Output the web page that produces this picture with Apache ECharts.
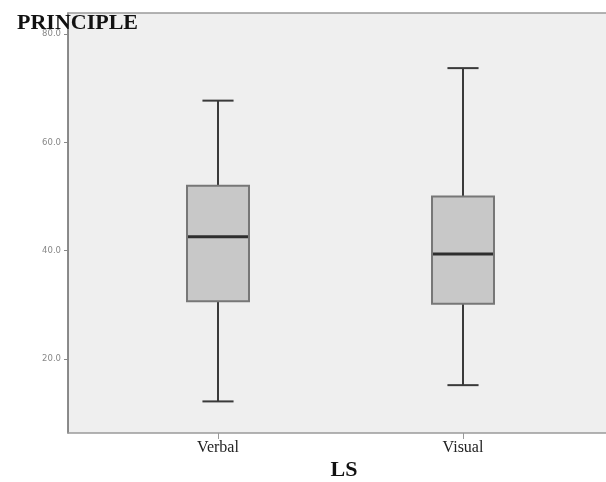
<!DOCTYPE html>
<html>
<head>
<meta charset="utf-8">
<script src="https://cdn.jsdelivr.net/npm/echarts@6/dist/echarts.min.js"></script>
<style>html,body{margin:0;padding:0;background:#fff;}#c{width:606px;height:482px;}</style>
</head>
<body>
<div id="c"></div>
<script>
var categories = ['Verbal', 'Visual'];
// [lower whisker, Q1, median, Q3, upper whisker]
var verbalBox = [12.2, 30.7, 42.6, 52.0, 67.7];
var visualBox = [15.2, 30.2, 39.4, 50.0, 73.7];
var yTicks = [20, 40, 60, 80];
var yMin = 6.37, yMax = 83.87;

var boxes = [verbalBox, visualBox];
var seriesData = boxes.map(function (b, i) { return [i].concat(b); });

var frameLine = { show: true, lineStyle: { color: '#9a9a9a', width: 1.5 } };

var chart = echarts.init(document.getElementById('c'));
chart.setOption({
  animation: false,
  title: [
    { text: 'PRINCIPLE', left: 12, top: 7,
      textStyle: { fontFamily: 'Liberation Serif', fontWeight: 'bold', fontSize: 22, color: '#111' } },
    { text: 'LS', left: 339, top: 454, textAlign: 'center',
      textStyle: { fontFamily: 'Liberation Serif', fontWeight: 'bold', fontSize: 22, color: '#111' } }
  ],
  grid: [
    { left: 68, top: 13, right: 0, bottom: 49, show: true, backgroundColor: '#efefef',
      borderWidth: 0 },
    { left: 95.5, width: 490, top: 13, bottom: 49, show: false }
  ],
  xAxis: [
    { gridIndex: 0, type: 'category', data: [''], position: 'bottom',
      axisLine: frameLine, axisTick: { show: false }, axisLabel: { show: false }, splitLine: { show: false } },
    { gridIndex: 1, type: 'category', data: categories,
      axisLine: { show: false },
      axisTick: { show: true, alignWithLabel: true, length: 6, lineStyle: { color: '#999', width: 1 } },
      axisLabel: { margin: 7, fontFamily: 'Liberation Serif', fontSize: 16, color: '#222' },
      splitLine: { show: false } },
    { gridIndex: 0, type: 'category', data: [''], position: 'top',
      axisLine: frameLine, axisTick: { show: false }, axisLabel: { show: false }, splitLine: { show: false } }
  ],
  yAxis: [
    { gridIndex: 0, type: 'value', min: yMin, max: yMax,
      axisLine: { show: true, lineStyle: { color: '#666', width: 1.5 } },
      axisTick: { show: true, length: 4, customValues: yTicks, lineStyle: { color: '#888' } },
      axisLabel: { customValues: yTicks, margin: 7, fontSize: 8.5, color: '#888',
        fontFamily: 'DejaVu Sans', formatter: function (v) { return v.toFixed(1); } },
      splitLine: { show: false } },
    { gridIndex: 1, type: 'value', min: yMin, max: yMax, show: false, splitLine: { show: false } }
  ],
  series: [{
    type: 'custom',
    xAxisIndex: 1, yAxisIndex: 1,
    data: seriesData,
    encode: { x: 0, y: [1, 2, 3, 4, 5] },
    renderItem: function (params, api) {
      var x = api.value(0);
      var band = api.size([1, 0])[0];
      var bw = band * 0.253, cw = band * 0.127;
      var pLW = api.coord([x, api.value(1)]);
      var pQ1 = api.coord([x, api.value(2)]);
      var pMed = api.coord([x, api.value(3)]);
      var pQ3 = api.coord([x, api.value(4)]);
      var pUW = api.coord([x, api.value(5)]);
      var cx = pMed[0];
      var wStyle = { stroke: '#3a3a3a', lineWidth: 2 };
      return {
        type: 'group',
        children: [
          { type: 'line', shape: { x1: cx, y1: pUW[1], x2: cx, y2: pQ3[1] }, style: wStyle },
          { type: 'line', shape: { x1: cx, y1: pQ1[1], x2: cx, y2: pLW[1] }, style: wStyle },
          { type: 'line', shape: { x1: cx - cw / 2, y1: pUW[1], x2: cx + cw / 2, y2: pUW[1] }, style: wStyle },
          { type: 'line', shape: { x1: cx - cw / 2, y1: pLW[1], x2: cx + cw / 2, y2: pLW[1] }, style: wStyle },
          { type: 'rect', shape: { x: cx - bw / 2, y: pQ3[1], width: bw, height: pQ1[1] - pQ3[1] },
            style: { fill: '#c8c8c8', stroke: '#777', lineWidth: 2 } },
          { type: 'line', shape: { x1: cx - bw / 2 + 1, y1: pMed[1], x2: cx + bw / 2 - 1, y2: pMed[1] },
            style: { stroke: '#2e2e2e', lineWidth: 3 } }
        ]
      };
    }
  }]
});
</script>
</body>
</html>
